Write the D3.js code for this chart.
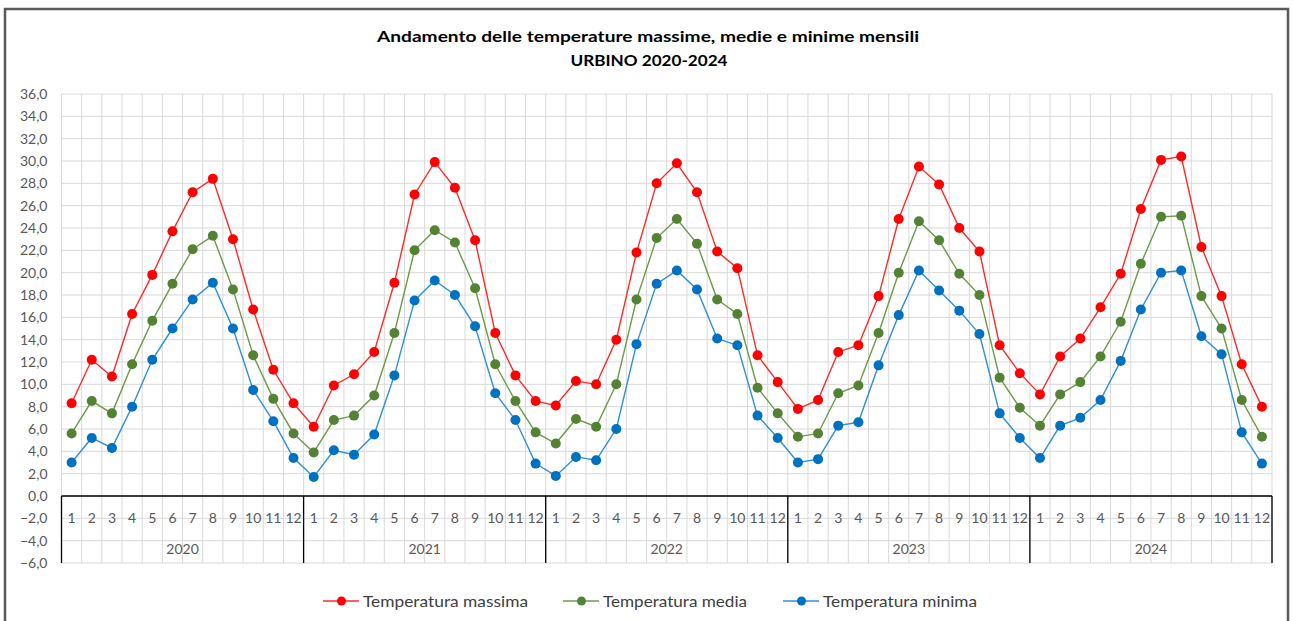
<!DOCTYPE html>
<html>
<head>
<meta charset="utf-8">
<script src="https://cdn.jsdelivr.net/npm/d3@7"></script>
<style>
  html, body { margin: 0; padding: 0; background: #fff; }
  #chart { width: 1293px; height: 621px; }
  text { font-family: Lato, "Open Sans", sans-serif; }
</style>
</head>
<body>
<div id="chart"></div>
<script>
// data (°C), one value per month, 2020-2024
const years = ["2020", "2021", "2022", "2023", "2024"];
const months = ["1", "2", "3", "4", "5", "6", "7", "8", "9", "10", "11", "12"];
const yTicks = [-6, -4, -2, 0, 2, 4, 6, 8, 10, 12, 14, 16, 18, 20, 22, 24, 26, 28, 30, 32, 34, 36];

const tMax = [
  8.3, 12.2, 10.7, 16.3, 19.8, 23.7, 27.2, 28.4, 23.0, 16.7, 11.3, 8.3,
  6.2, 9.9, 10.9, 12.9, 19.1, 27.0, 29.9, 27.6, 22.9, 14.6, 10.8, 8.5,
  8.1, 10.3, 10.0, 14.0, 21.8, 28.0, 29.8, 27.2, 21.9, 20.4, 12.6, 10.2,
  7.8, 8.6, 12.9, 13.5, 17.9, 24.8, 29.5, 27.9, 24.0, 21.9, 13.5, 11.0,
  9.1, 12.5, 14.1, 16.9, 19.9, 25.7, 30.1, 30.4, 22.3, 17.9, 11.8, 8.0
];
const tMed = [
  5.6, 8.5, 7.4, 11.8, 15.7, 19.0, 22.1, 23.3, 18.5, 12.6, 8.7, 5.6,
  3.9, 6.8, 7.2, 9.0, 14.6, 22.0, 23.8, 22.7, 18.6, 11.8, 8.5, 5.7,
  4.7, 6.9, 6.2, 10.0, 17.6, 23.1, 24.8, 22.6, 17.6, 16.3, 9.7, 7.4,
  5.3, 5.6, 9.2, 9.9, 14.6, 20.0, 24.6, 22.9, 19.9, 18.0, 10.6, 7.9,
  6.3, 9.1, 10.2, 12.5, 15.6, 20.8, 25.0, 25.1, 17.9, 15.0, 8.6, 5.3
];
const tMin = [
  3.0, 5.2, 4.3, 8.0, 12.2, 15.0, 17.6, 19.1, 15.0, 9.5, 6.7, 3.4,
  1.7, 4.1, 3.7, 5.5, 10.8, 17.5, 19.3, 18.0, 15.2, 9.2, 6.8, 2.9,
  1.8, 3.5, 3.2, 6.0, 13.6, 19.0, 20.2, 18.5, 14.1, 13.5, 7.2, 5.2,
  3.0, 3.3, 6.3, 6.6, 11.7, 16.2, 20.2, 18.4, 16.6, 14.5, 7.4, 5.2,
  3.4, 6.3, 7.0, 8.6, 12.1, 16.7, 20.0, 20.2, 14.3, 12.7, 5.7, 2.9
];

const series = [
  { name: "Temperatura massima", values: tMax, line: "#ff2a2a", dot: "#ff0000" },
  { name: "Temperatura media", values: tMed, line: "#6b9b47", dot: "#548235" },
  { name: "Temperatura minima", values: tMin, line: "#2f8fd8", dot: "#0070c0" }
];

const W = 1293, H = 621;
const plot = { left: 61.5, right: 1272, top: 94, bottom: 563 };
const labelColor = "#595959";

const svg = d3.select("#chart").append("svg")
  .attr("width", W).attr("height", H)
  .attr("viewBox", "0 0 " + W + " " + H);

// every month gets its own slot on the band scale
const slots = [];
years.forEach(y => months.forEach(m => slots.push(y + "-" + m)));

const x = d3.scaleBand().domain(slots).range([plot.left, plot.right]);
const y = d3.scaleLinear().domain([-6, 36]).range([plot.bottom, plot.top]);

// chart frame
svg.append("rect")
  .attr("x", 5).attr("y", 9)
  .attr("width", 1283).attr("height", 640)
  .attr("fill", "#fff")
  .attr("stroke", "#595959")
  .attr("stroke-width", 2.5);

// title
svg.append("text")
  .attr("x", 648).attr("y", 35)
  .attr("text-anchor", "middle").attr("dominant-baseline", "central")
  .attr("textLength", 542).attr("lengthAdjust", "spacingAndGlyphs")
  .attr("style", "font-size: 16px; font-weight: bold")
  .attr("fill", "#000")
  .text("Andamento delle temperature massime, medie e minime mensili");
svg.append("text")
  .attr("x", 649).attr("y", 59)
  .attr("text-anchor", "middle").attr("dominant-baseline", "central")
  .attr("textLength", 157).attr("lengthAdjust", "spacingAndGlyphs")
  .attr("style", "font-size: 16px; font-weight: bold")
  .attr("fill", "#000")
  .text("URBINO 2020-2024");

// gridlines
const grid = svg.append("g").attr("stroke", "#d9d9d9").attr("stroke-width", 1);
grid.selectAll(".hgrid").data(yTicks).enter().append("line")
  .attr("x1", plot.left).attr("x2", plot.right)
  .attr("y1", d => y(d)).attr("y2", d => y(d));
const edges = slots.map(s => x(s)).concat([plot.right]);
grid.selectAll(".vgrid").data(edges).enter().append("line")
  .attr("x1", d => d).attr("x2", d => d)
  .attr("y1", plot.top).attr("y2", plot.bottom);

// y axis labels
const yAxis = svg.append("g")
  .attr("transform", "translate(" + (plot.left - 14) + ",0)")
  .call(d3.axisLeft(y).tickValues(yTicks).tickSize(0).tickPadding(0)
    .tickFormat(d => d3.format(".1f")(d).replace(".", ",")));
yAxis.select(".domain").remove();
yAxis.selectAll("text")
  .attr("fill", labelColor)
  .attr("style", "font-size: 14px; font-family: Lato, sans-serif");

// category axis: months and years
const cat = svg.append("g");
cat.append("line")
  .attr("x1", plot.left).attr("x2", plot.right)
  .attr("y1", y(0)).attr("y2", y(0))
  .attr("stroke", "#000").attr("stroke-width", 1.3);
const yearEdges = years.map(yr => x(yr + "-1")).concat([plot.right]);
cat.selectAll(".ydiv").data(yearEdges).enter().append("line")
  .attr("x1", d => d).attr("x2", d => d)
  .attr("y1", y(0)).attr("y2", plot.bottom)
  .attr("stroke", "#000").attr("stroke-width", 1.3);
cat.selectAll(".mlab").data(slots).enter().append("text")
  .attr("x", d => x(d) + x.bandwidth() / 2)
  .attr("y", 517)
  .attr("text-anchor", "middle").attr("dominant-baseline", "central")
  .attr("fill", labelColor)
  .attr("style", "font-size: 14px")
  .text(d => d.split("-")[1]);
cat.selectAll(".ylab").data(years).enter().append("text")
  .attr("x", d => x(d + "-6") + x.bandwidth())
  .attr("y", 548)
  .attr("text-anchor", "middle").attr("dominant-baseline", "central")
  .attr("fill", labelColor)
  .attr("style", "font-size: 14px")
  .text(d => d);

// series lines and markers
const line = d3.line()
  .x((d, i) => x(slots[i]) + x.bandwidth() / 2)
  .y(d => y(d));

series.forEach(s => {
  svg.append("path")
    .datum(s.values)
    .attr("d", line)
    .attr("fill", "none")
    .attr("stroke", s.line)
    .attr("stroke-width", 1.4);
  svg.append("g").selectAll("circle")
    .data(s.values).enter().append("circle")
    .attr("cx", (d, i) => x(slots[i]) + x.bandwidth() / 2)
    .attr("cy", d => y(d))
    .attr("r", 5)
    .attr("fill", s.dot);
});

// legend
const legendX = [323, 563, 783];
const legendW = [165, 144, 154];
const legend = svg.append("g");
series.forEach((s, i) => {
  const g = legend.append("g").attr("transform", "translate(" + legendX[i] + ",601)");
  g.append("line")
    .attr("x1", 0).attr("x2", 36).attr("y1", 0).attr("y2", 0)
    .attr("stroke", s.line).attr("stroke-width", 1.4);
  g.append("circle").attr("cx", 18.5).attr("cy", 0).attr("r", 4.5).attr("fill", s.dot);
  g.append("text")
    .attr("x", 40).attr("y", 0)
    .attr("dominant-baseline", "central")
    .attr("textLength", legendW[i]).attr("lengthAdjust", "spacingAndGlyphs")
    .attr("fill", "#404040")
    .attr("style", "font-size: 15px")
    .text(s.name);
});
</script>
</body>
</html>
